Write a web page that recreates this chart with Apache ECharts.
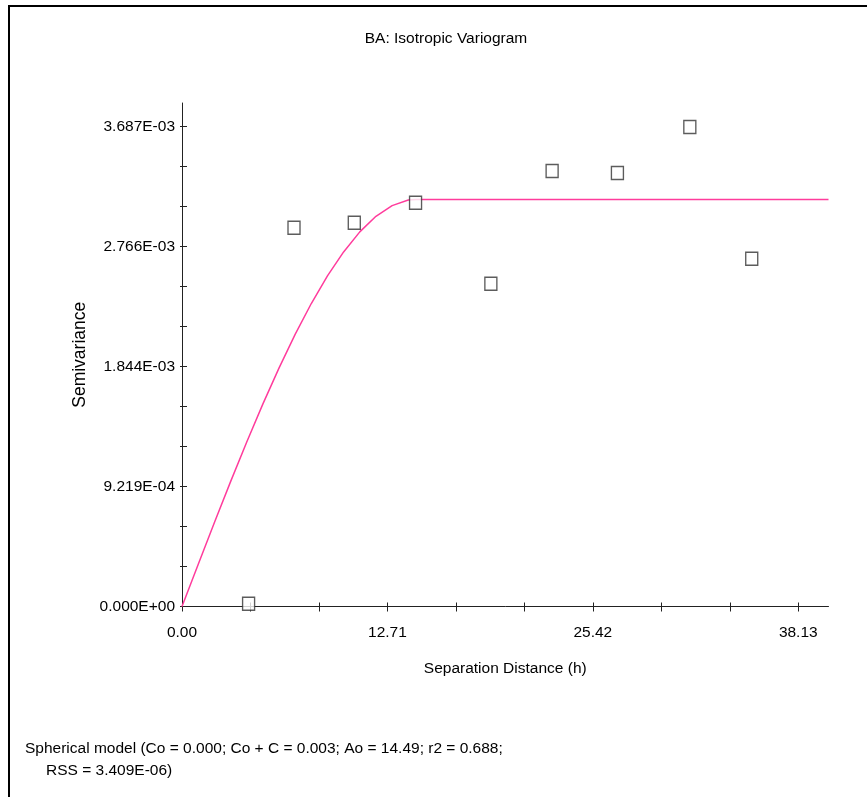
<!DOCTYPE html>
<html>
<head>
<meta charset="utf-8">
<script src="https://cdn.jsdelivr.net/npm/echarts@6/dist/echarts.min.js"></script>
<style>
  html, body { margin: 0; padding: 0; background: #fff; }
  #chart { width: 867px; height: 797px; }
</style>
</head>
<body>
<div id="chart"></div>
<script>
// tick values / labels as printed on the axes
const xTicks = [0, 12.71, 25.42, 38.13]
const xTickLabels = ['0.00', '12.71', '25.42', '38.13']
const yTicks = [0, 0.000921855, 0.00184371, 0.002765565, 0.00368742]
const yTickLabels = ['0.000E+00', '9.219E-04', '1.844E-03', '2.766E-03', '3.687E-03']

// experimental variogram (squares)
const lagDist = [4.12, 6.93, 10.66, 14.45, 19.11, 22.90, 26.94, 31.42, 35.25]
const semivar = [0.000021, 0.002909, 0.002948, 0.003101, 0.002479, 0.003344, 0.003329, 0.003682, 0.002671]

// fitted spherical model
const modelDist = [0, 1, 2, 3, 4, 5, 6, 7, 8, 9, 10, 11, 12, 13, 14, 14.49, 40]
const modelVal = [0, 0.000323, 0.000643, 0.000957, 0.001262, 0.001554, 0.001831, 0.002090,
  0.002327, 0.002539, 0.002723, 0.002877, 0.002997, 0.003079, 0.003122, 0.003125, 0.003125]

const font = "'Liberation Sans', Arial, sans-serif"
const fs = 15.5

function minorTicks(major, max) {
  const step = major[1] - major[0]
  const out = []
  major.forEach(v => {
    for (let k = 0; k < 3; k++) {
      const t = v + k * step / 3
      if (t <= max) out.push(t)
    }
  })
  return out
}

const xMax = 40
const yMax = 0.003867
const xAllTicks = minorTicks(xTicks, xMax)
const yAllTicks = minorTicks(yTicks, yMax)

function labelFor(ticks, labels) {
  return v => {
    let best = 0
    ticks.forEach((t, i) => { if (Math.abs(t - v) < Math.abs(ticks[best] - v)) best = i })
    return labels[best]
  }
}

const chart = echarts.init(document.getElementById('chart'))
chart.setOption({
  animation: false,
  backgroundColor: '#fff',
  grid: { left: 182, right: 38.5, top: 103, bottom: 190.5 },
  xAxis: [
    {
      type: 'value',
      min: 0,
      max: xMax,
      name: 'Separation Distance (h)',
      nameLocation: 'middle',
      nameGap: 54,
      nameTextStyle: { fontFamily: font, fontSize: fs, color: '#000' },
      splitLine: { show: false },
      axisLine: { lineStyle: { color: '#222', width: 1 } },
      axisTick: { customValues: xAllTicks, length: 5, lineStyle: { color: '#222' } },
      axisLabel: {
        customValues: xTicks,
        margin: 18,
        fontFamily: font,
        fontSize: fs,
        color: '#000',
        formatter: labelFor(xTicks, xTickLabels)
      }
    },
    {
      type: 'value',
      position: 'bottom',
      min: 0,
      max: xMax,
      splitLine: { show: false },
      axisLine: { show: false },
      axisLabel: { show: false },
      axisTick: { customValues: xAllTicks, inside: true, length: 4, lineStyle: { color: '#222' } }
    }
  ],
  yAxis: [
    {
      type: 'value',
      min: 0,
      max: yMax,
      name: 'Semivariance',
      nameLocation: 'middle',
      nameGap: 80,
      nameTextStyle: { fontFamily: font, fontSize: 17.5, color: '#000' },
      splitLine: { show: false },
      axisLine: { lineStyle: { color: '#222', width: 1 } },
      axisTick: { customValues: yAllTicks, length: 2, lineStyle: { color: '#222' } },
      axisLabel: {
        customValues: yTicks,
        margin: 7,
        fontFamily: font,
        fontSize: fs,
        color: '#000',
        formatter: labelFor(yTicks, yTickLabels)
      }
    },
    {
      type: 'value',
      position: 'left',
      min: 0,
      max: yMax,
      splitLine: { show: false },
      axisLine: { show: false },
      axisLabel: { show: false },
      axisTick: { customValues: yAllTicks, inside: true, length: 5, lineStyle: { color: '#222' } }
    }
  ],
  series: [
    {
      name: 'Spherical model',
      type: 'line',
      data: modelDist.map((d, i) => [d, modelVal[i]]),
      showSymbol: false,
      smooth: false,
      lineStyle: { color: '#ff3c9c', width: 1.5 },
      z: 2
    },
    {
      name: 'Semivariance',
      type: 'scatter',
      data: lagDist.map((d, i) => [d, semivar[i]]),
      symbol: 'rect',
      symbolSize: [12, 13],
      itemStyle: { color: '#fff', borderColor: '#333', borderWidth: 1.4 },
      z: 3
    }
  ],
  graphic: [
    { type: 'rect', shape: { x: 8, y: 5, width: 859, height: 2 }, style: { fill: '#000' } },
    { type: 'rect', shape: { x: 8, y: 5, width: 2, height: 792 }, style: { fill: '#000' } },
    {
      type: 'text', x: 446, y: 39,
      style: { text: 'BA: Isotropic Variogram', fontFamily: font, fontSize: fs, fill: '#000', align: 'center', verticalAlign: 'middle' }
    },
    {
      type: 'text', x: 25, y: 749,
      style: { text: 'Spherical model (Co = 0.000; Co + C = 0.003; Ao = 14.49; r2 = 0.688;', fontFamily: font, fontSize: fs, fill: '#000', verticalAlign: 'middle' }
    },
    {
      type: 'text', x: 46, y: 771,
      style: { text: 'RSS = 3.409E-06)', fontFamily: font, fontSize: fs, fill: '#000', verticalAlign: 'middle' }
    }
  ]
})
</script>
</body>
</html>
